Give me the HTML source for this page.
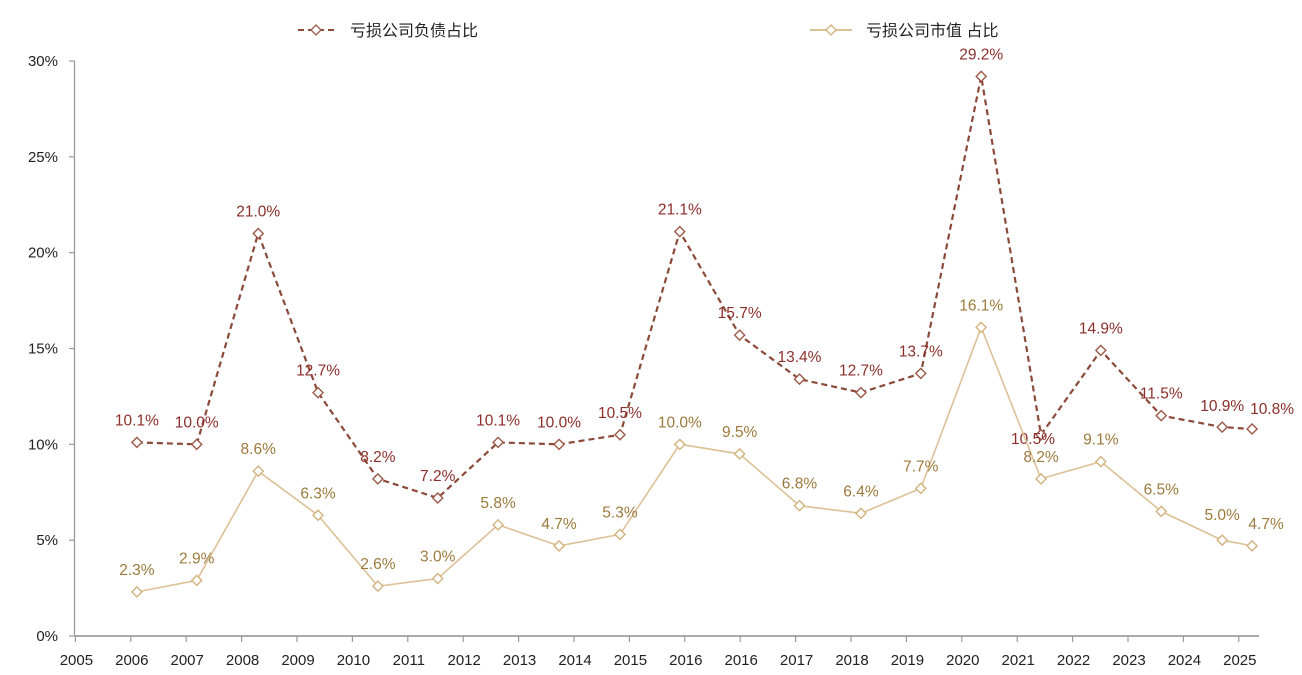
<!DOCTYPE html>
<html><head><meta charset="utf-8"><style>
html,body{margin:0;padding:0;background:#fff;}
svg{display:block;font-family:"Liberation Sans","Noto Sans CJK SC",sans-serif;}
</style></head><body>
<svg id="chart" width="1302" height="675" viewBox="0 0 1302 675" xmlns="http://www.w3.org/2000/svg">
<g id="legend">
  <g>
    <line x1="298" y1="30" x2="334" y2="30" stroke="#8b4a3a" stroke-width="2" stroke-dasharray="6,4"/>
    <path d="M316 25 L321 30 L316 35 L311 30 Z" fill="#fff" stroke="#9c5a4a" stroke-width="1.3"/>
    <text x="350" y="36" font-size="16" fill="#222">亏损公司负债占比</text>
  </g>
  <g>
    <line x1="810" y1="30" x2="852" y2="30" stroke="#dcc197" stroke-width="2"/>
    <path d="M831 25 L836 30 L831 35 L826 30 Z" fill="#fff" stroke="#d2b27f" stroke-width="1.3"/>
    <text x="866" y="36" font-size="16" fill="#222">亏损公司市值 占比</text>
  </g>
</g>
<g id="axes"></g>
<g id="series"></g>
</svg>
<script>
const xTickLabels = ["2005","2006","2007","2008","2009","2010","2011","2012","2013","2014","2015","2016","2016","2017","2018","2019","2020","2021","2022","2023","2024","2025"];
const yTicks = [0,5,10,15,20,25,30];
const times = [2006.11,2007.19,2008.30,2009.38,2010.46,2011.54,2012.63,2013.73,2014.83,2015.91,2016.99,2018.07,2019.18,2020.26,2021.35,2022.43,2023.51,2024.60,2025.70,2026.24];
const debtRatio = [10.1,10.0,21.0,12.7,8.2,7.2,10.1,10.0,10.5,21.1,15.7,13.4,12.7,13.7,29.2,10.5,14.9,11.5,10.9,10.8];
const mktcapRatio = [2.3,2.9,8.6,6.3,2.6,3.0,5.8,4.7,5.3,10.0,9.5,6.8,6.4,7.7,16.1,8.2,9.1,6.5,5.0,4.7];

const NS="http://www.w3.org/2000/svg";
const X0=75.4, XS=55.4, Y0=636, YS=575/30;
function xT(t){return X0+(t-2005)*XS;}
function xI(i){return X0+i*XS;}
function y(v){return Y0-v*YS;}
function mk(tag,attrs,parent){const e=document.createElementNS(NS,tag);for(const k in attrs)e.setAttribute(k,attrs[k]);parent.appendChild(e);return e;}

const axes=document.getElementById('axes');
const yAxis=mk('line',{x1:74.5,y1:61,x2:74.5,y2:636,stroke:'#999','stroke-width':1.3},axes);


yTicks.forEach(v=>{
  mk('line',{x1:69,y1:y(v),x2:74.5,y2:y(v),stroke:'#999','stroke-width':1.2},axes);
  const t=mk('text',{x:58,y:y(v)+5,'font-size':15,fill:'#222','text-anchor':'end'},axes);
  t.textContent=v+'%';
  
  
});
const xAxis=mk('line',{x1:74.5,y1:636,x2:1259,y2:636,stroke:'#aaa','stroke-width':2},axes);


xTickLabels.forEach((lab,i)=>{
  mk('line',{x1:xI(i),y1:636,x2:xI(i),y2:642,stroke:'#999','stroke-width':1.2},axes);
  const t=mk('text',{x:xI(i)+1,y:665,'font-size':15,fill:'#222','text-anchor':'middle'},axes);
  t.textContent=lab;
  
  
});

const series=document.getElementById('series');
function drawSeries(vals,name,lineColor,dash,markColor,labColor,labOff){
  const g=mk('g',{},series);
  
  
  const pts=vals.map((v,i)=>xT(times[i]).toFixed(1)+','+y(v).toFixed(1)).join(' ');
  const attrs={points:pts,fill:'none',stroke:lineColor,'stroke-width':dash?2.2:1.6};
  if(dash)attrs['stroke-dasharray']='6,4';
  mk('polyline',attrs,g);
  vals.forEach((v,i)=>{
    const cx=xT(times[i]),cy=y(v);
    const m=mk('path',{d:`M${cx} ${cy-5} L${cx+5} ${cy} L${cx} ${cy+5} L${cx-5} ${cy} Z`,fill:'#fff',stroke:markColor,'stroke-width':1.4},g);
    
    
    const o=labOff[i]||[0,-17];
    const t=mk('text',{x:cx+o[0],y:cy+o[1],'font-size':15.5,fill:labColor,'text-anchor':'middle'},g);
    t.textContent=v.toFixed(1)+'%';
    
    
  });
}
const debtOff={15:[-8,9],18:[0,-16],19:[20,-15]};
const capOff={18:[0,-20],19:[14,-17]};
drawSeries(debtRatio,'debt-ratio-series','#8b4a3a',true,'#9c5a4a','#8b2f2a',debtOff);
drawSeries(mktcapRatio,'mktcap-ratio-series','#dcc197',false,'#d2b27f','#9c7a3c',capOff);
</script>
</body></html>
